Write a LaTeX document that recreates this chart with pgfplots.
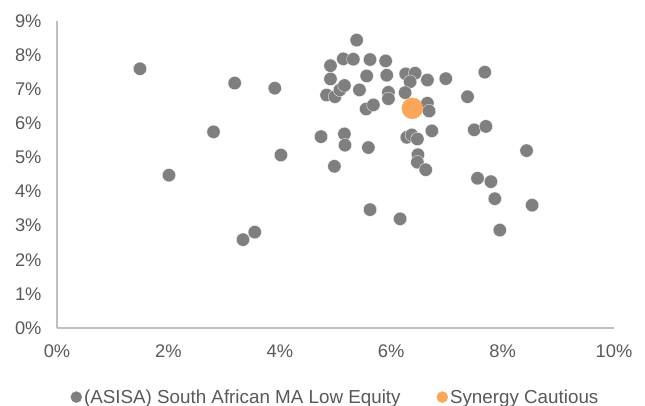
\documentclass[border=0pt]{standalone}
\usepackage{pgfplots}
\pgfplotsset{compat=1.18}
\usepackage{fontspec}
\setmainfont{Liberation Sans}
\definecolor{ptgray}{HTML}{7F7F7F}
\definecolor{ptorange}{HTML}{FBA75A}
\definecolor{txtgray}{HTML}{595959}
\definecolor{axgray}{HTML}{BFBFBF}
\begin{document}
\begin{tikzpicture}
\path[use as bounding box] (-57pt,-78pt) rectangle (588pt,328pt);
\begin{axis}[
  scale only axis, width=557pt, height=307pt,
  xmin=0, xmax=10, ymin=0, ymax=9,
  axis x line*=bottom, axis y line*=left,
  axis line style={axgray, line width=1.2pt, -},
  major tick length=0pt,
  xtick={0,2,...,10}, xticklabels={0\%,2\%,4\%,6\%,8\%,10\%},
  ytick={0,1,...,9}, yticklabels={0\%,1\%,2\%,3\%,4\%,5\%,6\%,7\%,8\%,9\%},
  tick label style={font=\fontsize{18.3}{20}\selectfont, text=txtgray},
  xticklabel style={yshift=-13pt},
  yticklabel style={xshift=-12pt},
  legend columns=2,
  legend style={draw=none, at={(0.5,-0.225)}, anchor=center,
    font=\fontsize{18.8}{21}\selectfont, text=txtgray,
    /tikz/every even column/.append style={column sep=34pt}},
  legend image code/.code={\fill[#1] (0.3em,0) circle (5.5pt);},
]
\addplot[only marks, mark=*, mark size=6.7pt, color=ptgray, mark options={draw=white, line width=0.3pt}] coordinates {
(1.49,7.60) (2.01,4.48) (2.81,5.75) (3.19,7.18) (3.91,7.03) (4.02,5.07)
(3.34,2.59) (3.55,2.81) (5.38,8.44) (4.91,7.69) (5.14,7.89) (5.32,7.88)
(5.62,7.87) (5.90,7.83) (4.91,7.30) (5.56,7.39) (5.92,7.41) (6.26,7.45)
(6.43,7.47) (6.34,7.22) (6.65,7.27) (6.98,7.31) (7.68,7.50) (4.84,6.83)
(4.99,6.78) (5.08,6.98) (5.16,7.11) (5.43,6.98) (5.95,6.91) (5.95,6.72)
(6.25,6.90) (5.55,6.42) (5.68,6.54) (6.65,6.59) (6.68,6.36) (7.37,6.78)
(4.74,5.61) (5.16,5.69) (5.17,5.36) (5.59,5.29) (4.98,4.74) (6.28,5.59)
(6.37,5.66) (6.47,5.54) (6.73,5.78) (6.48,5.08) (6.47,4.86) (6.62,4.64)
(7.49,5.81) (7.70,5.91) (8.43,5.20) (7.55,4.39) (7.79,4.29) (7.86,3.79)
(5.62,3.47) (6.16,3.20) (8.53,3.60) (7.95,2.87)
};
\addlegendentry{(ASISA) South African MA Low Equity}
\addplot[only marks, mark=*, mark size=10.5pt, color=ptorange, mark options={draw=ptorange}] coordinates {(6.38,6.44)};
\addlegendentry{Synergy Cautious}
\end{axis}
\end{tikzpicture}
\end{document}
